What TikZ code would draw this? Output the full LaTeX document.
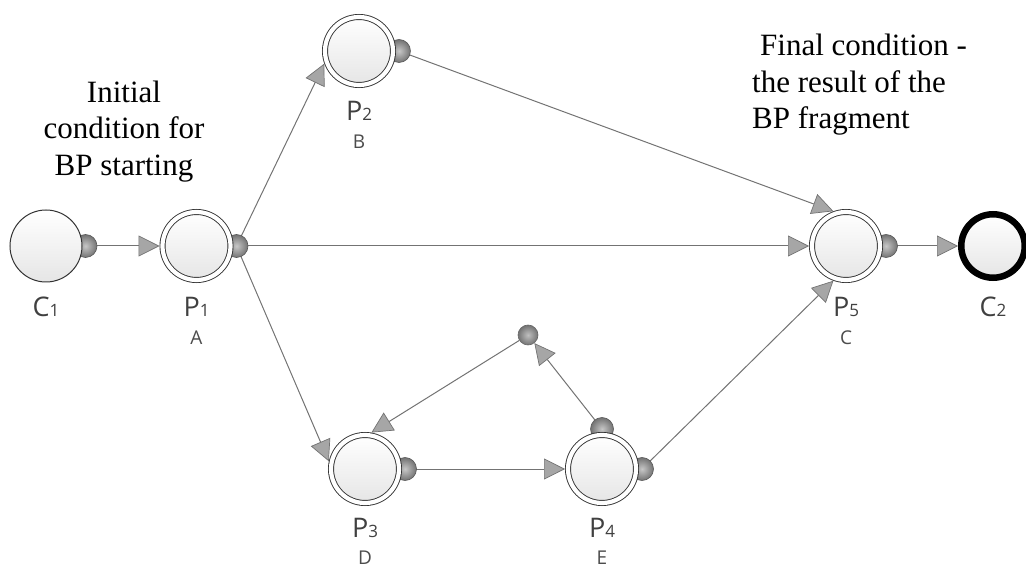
\documentclass[tikz,border=0pt]{standalone}
\usepackage{fontspec}
\setmainfont{Liberation Serif}
\newfontfamily\labfont{Open Sans}
\usetikzlibrary{arrows.meta}
\pgfdeclarelayer{background}
\pgfsetlayers{background,main}

% name label: big letter with a smaller index, same baseline
\newcommand\pname[2]{{\labfont\fontsize{27}{27}\selectfont #1\fontsize{17}{17}\selectfont #2}}

\begin{document}
\begin{tikzpicture}[x=1pt,y=-1pt,
  place/.style={circle, minimum size=68pt, inner sep=0pt, draw=black!80,
    line width=0.9pt, double=white, double distance=4.2pt,
    top color=white, bottom color=black!10, outer sep=3pt},
  cond/.style={circle, minimum size=72pt, inner sep=0pt, draw=black!80,
    line width=1pt, top color=white, bottom color=black!10},
  finalcond/.style={circle, minimum size=63.5pt, inner sep=0pt, draw=black,
    line width=6.5pt, top color=white, bottom color=black!10},
  junction/.style={circle, minimum size=20pt, inner sep=0pt, draw=black!60,
    line width=0.6pt, inner color=black!25, outer color=black!55},
  portdisc/.style={draw=black!65, line width=0.6pt, inner color=black!22, outer color=black!55},
  flow/.style={draw=black!55, line width=1pt,
    -{Triangle[length=21pt, width=21pt, fill=black!35, color=black!55, line width=0.7pt]}},
  lab/.style={anchor=base, inner sep=0pt, text=black!75},
  letter/.style={anchor=base, inner sep=0pt, text=black!70, font=\labfont\fontsize{19}{19}\selectfont},
  note/.style={inner sep=0pt, text=black, font=\fontsize{31}{36.5}\selectfont}
]
\useasboundingbox (0,0) rectangle (1026,569);

% conditions and places
\node[cond] (C1) at (46,246) {};
\node[place] (P1) at (196.5,246) {};
\node[place] (P2) at (359,51) {};
\node[place] (P3) at (365,469) {};
\node[place] (P4) at (602,469) {};
\node[place] (P5) at (846,246) {};
\node[finalcond] (C2) at (993,246) {};
\node[junction] (J) at (528,335) {};

% output ports
\coordinate (oC1) at ([xshift=3pt]C1.east);
\coordinate (oP1) at ([xshift=3pt]P1.east);
\coordinate (oP2) at ([xshift=3pt]P2.east);
\coordinate (oP3) at ([xshift=3pt]P3.east);
\coordinate (oP4) at ([xshift=3pt]P4.east);
\coordinate (tP4) at ([yshift=3pt]P4.north);
\coordinate (oP5) at ([xshift=3pt]P5.east);

\begin{pgfonlayer}{background}
  % connectors
  \draw[flow] (oC1) -- (C1.east -| P1.west);
  \draw[flow] (oP1) -- (P2.200);
  \draw[flow] (oP1) -- (P5.west);
  \draw[flow] (oP1) -- (P3.168);
  \draw[flow] (oP2) -- (P5.110);
  \draw[flow] (oP3) -- (P4.west);
  \draw[flow] (oP4) -- (P5.250);
  \draw[flow] (tP4) -- (J);
  \draw[flow] (J) -- (P3.80);
  \draw[flow] (oP5) -- (C2.west);
  % port discs
  \foreach \p in {oC1,oP1,oP2,oP3,oP4,tP4,oP5}
    \path[portdisc] (\p) circle (11.5pt);
\end{pgfonlayer}

% names under the nodes
\node[lab] (C1n) at (46,317) {\pname{C}{1}};
\node[lab] (P1n) at (196.5,317) {\pname{P}{1}};
\node[letter] (P1l) at (196.5,345) {A};
\node[lab] (P2n) at (359,121) {\pname{P}{2}};
\node[letter] (P2l) at (359,149) {B};
\node[lab] (P3n) at (365,537) {\pname{P}{3}};
\node[letter] (P3l) at (365,564) {D};
\node[lab] (P4n) at (602,537) {\pname{P}{4}};
\node[letter] (P4l) at (602,564) {E};
\node[lab] (P5n) at (846,317) {\pname{P}{5}};
\node[letter] (P5l) at (846,345) {C};
\node[lab] (C2n) at (993,317) {\pname{C}{2}};

% annotations
\node[note, align=center] (init) at (124,131.5) {Initial\\condition for\\BP starting};
\node[note, align=left, anchor=north west] (final) at (752,34)
  {\hspace*{8pt}Final condition -\\the result of the\\BP fragment};
\end{tikzpicture}
\end{document}
